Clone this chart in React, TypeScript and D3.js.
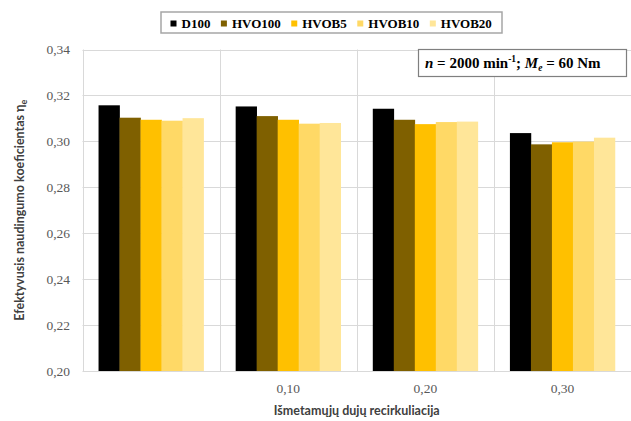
import React, { useEffect, useRef } from 'react';
import * as d3 from 'd3';

// Exhaust gas recirculation levels (first group has no printed label)
const categories = ['', '0,10', '0,20', '0,30'];
const seriesNames = ['D100', 'HVO100', 'HVOB5', 'HVOB10', 'HVOB20'];
const seriesColors = ['#000000', '#7f6000', '#ffc000', '#ffd966', '#ffe699'];

// Effective efficiency per fuel, one value per recirculation level
const d100 = [0.3157, 0.3152, 0.3142, 0.3036];
const hvo100 = [0.3103, 0.311, 0.3094, 0.2987];
const hvob5 = [0.3094, 0.3094, 0.3075, 0.2996];
const hvob10 = [0.309, 0.3077, 0.3084, 0.2999];
const hvob20 = [0.3101, 0.308, 0.3086, 0.3016];
const seriesValues = [d100, hvo100, hvob5, hvob10, hvob20];

const yTicks = [0.2, 0.22, 0.24, 0.26, 0.28, 0.3, 0.32, 0.34];

const W = 631;
const H = 421;
const plot = { left: 82.5, right: 631, top: 49.5, bottom: 371 };

const SERIF = "'Liberation Serif', 'Times New Roman', serif";
const SANS = "Lato, 'Open Sans', 'Liberation Sans', sans-serif";

export default function App() {
  const ref = useRef<SVGSVGElement | null>(null);

  useEffect(() => {
    const svg = d3.select(ref.current);
    svg.selectAll('*').remove();

    const y = d3.scaleLinear().domain([0.2, 0.34]).range([plot.bottom, plot.top]);
    const x0 = d3.scaleBand<string>().domain(categories.map((_, i) => String(i))).range([plot.left, plot.right]);
    const gap = x0.bandwidth() * 0.117;
    const x1 = d3.scaleBand<string>().domain(seriesNames).range([gap, x0.bandwidth() - gap]);

    const grid = svg.append('g');
    // horizontal gridlines
    grid.selectAll('line.h')
      .data(yTicks)
      .join('line')
      .attr('x1', plot.left)
      .attr('x2', plot.right)
      .attr('y1', (d) => Math.round(y(d)) + 0.5)
      .attr('y2', (d) => Math.round(y(d)) + 0.5)
      .attr('stroke', '#d9d9d9')
      .attr('stroke-width', 1);
    // vertical category separators
    grid.selectAll('line.v')
      .data(categories.map((_, i) => i))
      .join('line')
      .attr('x1', (i) => Math.round(x0(String(i))!) + 0.5)
      .attr('x2', (i) => Math.round(x0(String(i))!) + 0.5)
      .attr('y1', plot.top)
      .attr('y2', plot.bottom)
      .attr('stroke', '#d9d9d9')
      .attr('stroke-width', 1);

    // bars
    const groups = svg.append('g')
      .selectAll('g')
      .data(categories.map((_, i) => i))
      .join('g')
      .attr('transform', (i) => `translate(${x0(String(i))},0)`);
    groups.selectAll('rect')
      .data((i) => seriesNames.map((s, k) => ({ s, k, v: seriesValues[k][i] })))
      .join('rect')
      .attr('x', (d) => x1(d.s)!)
      .attr('width', x1.bandwidth() + 0.3)
      .attr('y', (d) => y(d.v))
      .attr('height', (d) => plot.bottom - y(d.v))
      .attr('fill', (d) => seriesColors[d.k]);

    // y tick labels
    svg.append('g')
      .selectAll('text')
      .data(yTicks)
      .join('text')
      .attr('x', 70)
      .attr('y', (d) => y(d))
      .attr('dy', '0.35em')
      .attr('text-anchor', 'end')
      .attr('font-family', SERIF)
      .attr('font-size', 13.5)
      .attr('fill', '#595959')
      .text((d) => d3.format('.2f')(d).replace('.', ','));

    // x tick labels
    svg.append('g')
      .selectAll('text')
      .data(categories.map((c, i) => ({ c, i })))
      .join('text')
      .attr('x', (d) => x0(String(d.i))! + x0.bandwidth() / 2)
      .attr('y', 393)
      .attr('text-anchor', 'middle')
      .attr('font-family', SERIF)
      .attr('font-size', 13.5)
      .attr('fill', '#595959')
      .text((d) => d.c);

    // axis titles
    svg.append('text')
      .attr('x', (plot.left + plot.right) / 2)
      .attr('y', 415)
      .attr('text-anchor', 'middle')
      .attr('font-family', SANS)
      .attr('font-weight', 'bold')
      .attr('font-size', 12.5)
      .attr('fill', '#404040')
      .text('Išmetamųjų dujų recirkuliacija');

    const yTitle = svg.append('text')
      .attr('transform', `translate(24,${(plot.top + plot.bottom) / 2}) rotate(-90)`)
      .attr('text-anchor', 'middle')
      .attr('font-family', SANS)
      .attr('font-weight', 'bold')
      .attr('font-size', 12.5)
      .attr('fill', '#404040');
    yTitle.append('tspan').text('Efektyvusis naudingumo koeficientas η');
    yTitle.append('tspan').attr('font-size', 9).attr('dy', 3).text('e');

    // legend
    const legend = svg.append('g');
    legend.append('rect')
      .attr('x', 161)
      .attr('y', 12)
      .attr('width', 341)
      .attr('height', 21)
      .attr('fill', '#fff')
      .attr('stroke', '#a6a6a6')
      .attr('stroke-width', 1.5);
    let lx = 170.5;
    seriesNames.forEach((name, k) => {
      legend.append('rect')
        .attr('x', lx)
        .attr('y', 20.5)
        .attr('width', 6)
        .attr('height', 6)
        .attr('fill', seriesColors[k]);
      const t = legend.append('text')
        .attr('x', lx + 11)
        .attr('y', 27.5)
        .attr('font-family', SERIF)
        .attr('font-weight', 'bold')
        .attr('font-size', 13)
        .attr('fill', '#000')
        .text(name);
      const w = (t.node() as SVGTextElement).getComputedTextLength();
      lx = lx + 11 + w + 10.5;
    });

    // operating conditions note
    const note = svg.append('g');
    note.append('rect')
      .attr('x', 418.5)
      .attr('y', 49.5)
      .attr('width', 208)
      .attr('height', 27)
      .attr('fill', '#fff')
      .attr('stroke', '#7f7f7f')
      .attr('stroke-width', 1.2);
    const nt = note.append('text')
      .attr('x', 425)
      .attr('y', 68)
      .attr('font-family', SERIF)
      .attr('font-weight', 'bold')
      .attr('font-size', 15)
      .attr('fill', '#000');
    nt.append('tspan').attr('font-style', 'italic').text('n');
    nt.append('tspan').text(' = 2000 min');
    nt.append('tspan').attr('font-size', 9.5).attr('dy', -6).text('-1');
    nt.append('tspan').attr('dy', 6).text('; ');
    nt.append('tspan').attr('font-style', 'italic').text('M');
    nt.append('tspan').attr('font-style', 'italic').attr('font-size', 9.5).attr('dy', 3).text('e');
    nt.append('tspan').attr('dy', -3).text(' = 60 Nm');
  }, []);

  return (
    <svg
      ref={ref}
      width={W}
      height={H}
      style={{ position: 'absolute', left: 0, top: 0, background: '#fff' }}
    />
  );
}
